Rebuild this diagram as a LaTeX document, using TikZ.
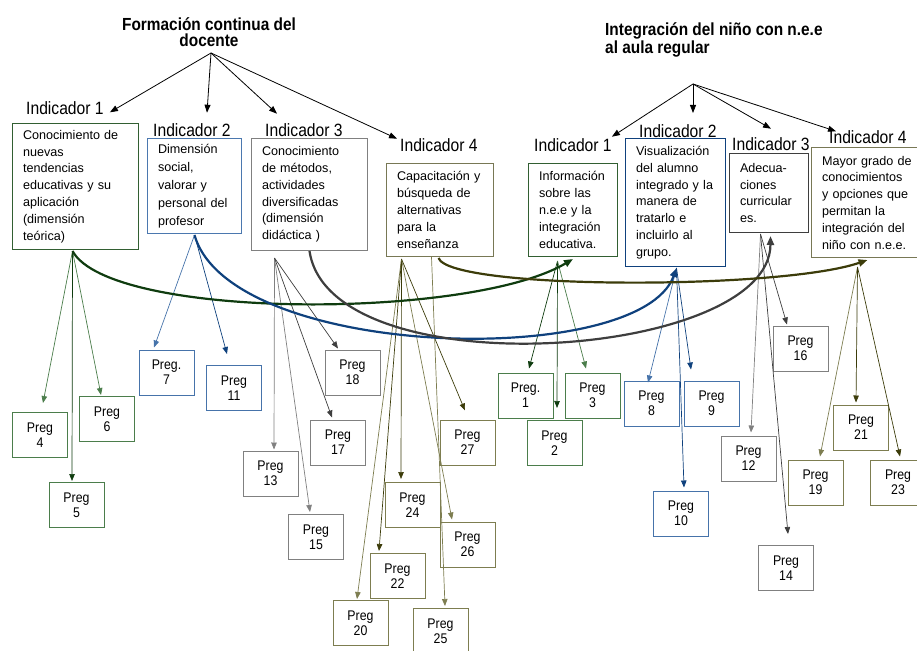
\documentclass[tikz,border=0pt]{standalone}
\usepackage{fontspec}
\setmainfont{Liberation Sans}
\newfontfamily\estrecha{Liberation Sans}[FakeStretch=0.88]
\usetikzlibrary{arrows.meta}
\definecolor{verdeb}{RGB}{50,95,50}
\definecolor{verdec}{RGB}{75,125,75}
\definecolor{verdeos}{RGB}{15,60,15}
\definecolor{azulb}{RGB}{75,120,175}
\definecolor{azulc}{RGB}{70,115,170}
\definecolor{azulos}{RGB}{15,65,125}
\definecolor{grisb}{RGB}{128,128,128}
\definecolor{grisos}{RGB}{62,62,62}
\definecolor{olivab}{RGB}{120,120,85}
\definecolor{olivac}{RGB}{125,125,80}
\definecolor{olivaos}{RGB}{60,60,10}
\tikzset{
	titulo/.style = {inner sep=0pt, font=\estrecha\bfseries\fontsize{17.5}{16.5}\selectfont},
	etiq/.style = {inner sep=0pt, anchor=base west,
		font=\estrecha\fontsize{17.8}{20}\selectfont},% etiqueta del indicador
	indbox/.style = {draw, anchor=north west, align=left, inner xsep=10.5pt,
		inner ysep=0pt, line width=1pt, font=\fontsize{12.6}{16.8}\selectfont},
	ind_v/.style = {indbox, draw=verdeb},% indicador verde
	ind_a/.style = {indbox, draw=azulb},% indicador azul
	ind_g/.style = {indbox, draw=grisb},% indicador gris
	ind_o/.style = {indbox, draw=olivab},% indicador oliva
	preg/.style = {draw, align=center, inner sep=0pt, minimum width=55pt,
		minimum height=45pt, line width=1pt, font=\estrecha\fontsize{14}{15}\selectfont},
	preg_v/.style = {preg, draw=verdec},% pregunta verde
	preg_a/.style = {preg, draw=azulc},% pregunta azul
	preg_g/.style = {preg, draw=grisb},% pregunta gris
	preg_o/.style = {preg, draw=olivac},% pregunta oliva
	fl/.style = {-{Triangle[length=7pt,width=5.5pt]}, line width=0.7pt, #1},
	curva/.style = {-{Triangle[length=9pt,width=7pt]}, line width=2.2pt, #1},
	raiz/.style = {-{Triangle[length=8pt,width=6pt]}, line width=0.8pt, black}
}
\begin{document}
\begin{tikzpicture}[x=1pt,y=-1pt]
\useasboundingbox (0,0) rectangle (917,650);

% variables
\node[titulo, align=center] (tfd) at (209,32) {Formación continua del\\docente};
\node[titulo, align=left, anchor=west, font=\estrecha\bfseries\fontsize{17.5}{18.5}\selectfont] (tin) at (605,40)
	{Integración del niño con n.e.e\\al aula regular};
\coordinate (fcd) at (211,53);
\coordinate (inr) at (693,84);

% etiquetas
\node[etiq] (li1) at (26,114.3) {Indicador 1};
\node[etiq] (li2) at (153,136.7) {Indicador 2};
\node[etiq] (li3) at (265,136.7) {Indicador 3};
\node[etiq] (li4) at (400,151.7) {Indicador 4};
\node[etiq] (ri1) at (534,151.7) {Indicador 1};
\node[etiq] (ri2) at (639,137) {Indicador 2};
\node[etiq] (ri3) at (732,150.7) {Indicador 3};
\node[etiq] (ri4) at (829,143.3) {Indicador 4};

% indicadores
\node[ind_v, text width=105pt, minimum height=126pt] (A1) at (12,123)
	{Conocimiento de\\nuevas\\tendencias\\educativas y su\\aplicación\\(dimensión\\teórica)};
\node[ind_a, text width=73pt, minimum height=95pt, font=\fontsize{12.6}{18}\selectfont] (A2) at (147,138)
	{Dimensión\\social,\\valorar y\\personal del\\profesor};
\node[ind_g, text width=95pt, minimum height=112pt] (A3) at (251,138)
	{Conocimiento\\de métodos,\\actividades\\diversificadas\\(dimensión\\didáctica )};
\node[ind_o, text width=86pt, minimum height=93pt] (A4) at (386,163)
	{Capacitación y\\búsqueda de\\alternativas\\para la\\enseñanza};
\node[ind_v, text width=68pt, minimum height=93pt] (B1) at (528,163)
	{Información\\sobre las\\n.e.e y la\\integración\\educativa.};
\node[ind_a, draw=azulos, text width=79pt, minimum height=128pt] (B2) at (625,138)
	{Visualización\\del alumno\\integrado y la\\manera de\\tratarlo e\\incluirlo al\\grupo.};
\node[ind_g, draw=grisos, text width=58pt, minimum height=79pt] (B3) at (729,153)
	{Adecua-\\ciones\\curricular\\es.};
\node[ind_o, text width=86pt, minimum height=110pt] (B4) at (811,147)
	{\mbox{Mayor grado de}\\conocimientos\\\mbox{y opciones que}\\permitan la\\integración del\\niño con n.e.e.};

% preguntas
\node[preg_v] (p4) at (40,435) {Preg\\4};
\node[preg_v] (p5) at (76.5,505) {Preg\\5};
\node[preg_v] (p6) at (107,419) {Preg\\6};
\node[preg_a] (p7) at (166.5,372.5) {Preg.\\7};
\node[preg_a] (p11) at (234,388) {Preg\\11};
\node[preg_g] (p13) at (270.5,473.5) {Preg\\13};
\node[preg_g] (p15) at (316,537) {Preg\\15};
\node[preg_g] (p17) at (338,442.5) {Preg\\17};
\node[preg_g] (p18) at (352.5,372.5) {Preg\\18};
\node[preg_o] (p20) at (360.5,623) {Preg\\20};
\node[preg_o] (p22) at (397.5,576) {Preg\\22};
\node[preg_o] (p24) at (412.5,505) {Preg\\24};
\node[preg_o] (p25) at (440.5,631) {Preg\\25};
\node[preg_o] (p26) at (467.5,544.5) {Preg\\26};
\node[preg_o] (p27) at (467.5,442.5) {Preg\\27};
\node[preg_v] (q1) at (525.5,395.5) {Preg.\\1};
\node[preg_v] (q2) at (554.5,443) {Preg\\2};
\node[preg_v] (q3) at (592.5,395.5) {Preg\\3};
\node[preg_a] (q8) at (651.5,403.5) {Preg\\8};
\node[preg_a] (q9) at (711.5,403.5) {Preg\\9};
\node[preg_a] (q10) at (681,513.5) {Preg\\10};
\node[preg_g] (q12) at (748.5,458.5) {Preg\\12};
\node[preg_g] (q14) at (786,568) {Preg\\14};
\node[preg_g] (q16) at (800.5,348.5) {Preg\\16};
\node[preg_o] (q19) at (815.5,482.5) {Preg\\19};
\node[preg_o] (q21) at (861,427.5) {Preg\\21};
\node[preg_o] (q23) at (898,482.5) {Preg\\23};

% salidas de las cajas
\coordinate (a1s) at ([shift={(-3,1)}]A1.south);
\coordinate (a2s) at ([shift={(0,1)}]A2.south);
\coordinate (a3s) at ([shift={(-35,7)}]A3.south);
\coordinate (a3c) at (A3.south);
\coordinate (a4s) at ([shift={(-38.5,2)}]A4.south);
\coordinate (a4t) at ([shift={(-8.5,0)}]A4.south);
\coordinate (a4c) at ([shift={(-1.5,1)}]A4.south);
\coordinate (b1s) at ([shift={(-15.5,4)}]B1.south);
\coordinate (b1c) at ([shift={(0,2)}]B1.south);
\coordinate (b2s) at ([shift={(1,1)}]B2.south);
\coordinate (b3s) at ([shift={(-8.5,1)}]B3.south);
\coordinate (b3c) at ([shift={(1.5,3)}]B3.south);
\coordinate (b4s) at ([shift={(-7.5,9)}]B4.south);
\coordinate (b4c) at ([shift={(2.5,2)}]B4.south);

% variables -> indicadores
\draw[raiz] (fcd) -- ([shift={(6,-2)}]li1.base east);
\draw[raiz] (fcd) -- ([shift={(54,-24)}]li2.base west);
\draw[raiz] (fcd) -- ([shift={(12,-23)}]li3.base west);
\draw[raiz] (fcd) -- ([shift={(-3,-13)}]li4.base west);
\draw[raiz] (inr) -- ([shift={(0,-15)}]ri1.base east);
\draw[raiz] (inr) -- ([shift={(54,-24)}]ri2.base west);
\draw[raiz] (inr) -- ([shift={(39,-22)}]ri3.base west);
\draw[raiz] (inr) -- ([shift={(7,-12)}]ri4.base west);

% indicadores -> preguntas
\draw[fl=verdec] (a1s) -- ([shift={(3,-9)}]p4.north);
\draw[fl=verdec] (a1s) -- ([shift={(-6,-1)}]p6.north);
\draw[fl=verdeos] (a1s) -- ([shift={(-4.5,-1)}]p5.north);
\draw[fl=azulc] (a2s) -- ([shift={(-12.5,-2)}]p7.north);
\draw[fl=azulos] (a2s) -- ([shift={(-7,-11)}]p11.north);
\draw[fl=grisb] (a3s) -- ([shift={(3.5,-1)}]p13.north);
\draw[fl=grisb] (a3s) -- ([shift={(-6,-2)}]p15.north);
\draw[fl=grisos] (a3s) -- ([shift={(-6,-2)}]p17.north);
\draw[fl=grisos] (a3s) -- ([shift={(-14.5,-1)}]p18.north);
\draw[fl=olivac] (a4s) -- ([shift={(-3.5,-1)}]p20.north);
\draw[fl=olivaos] (a4s) -- ([shift={(-18.5,-2)}]p22.north);
\draw[fl=olivaos] (a4s) -- ([shift={(-11.5,-3)}]p24.north);
\draw[fl=olivac] (a4s) -- ([shift={(-15.5,-2)}]p26.north);
\draw[fl=olivaos] (a4s) -- ([shift={(-2.5,-9)}]p27.north);
\draw[fl=olivac] (a4t) -- ([shift={(4.5,-2)}]p25.north);
\draw[fl=verdeos] (b1s) -- ([shift={(3.5,-4)}]q1.north);
\draw[fl=verdeos] (b1s) -- ([shift={(2.5,-12)}]q2.north);
\draw[fl=verdec] (b1s) -- ([shift={(-6.5,-4)}]q3.north);
\draw[fl=azulc] (b2s) -- ([shift={(-3.5,2)}]q8.north);
\draw[fl=azulos] (b2s) -- ([shift={(-20.5,-11)}]q9.north);
\draw[fl=azulos] (b2s) -- ([shift={(3,-3)}]q10.north);
\draw[fl=grisb] (b3s) -- ([shift={(2.5,-3)}]q12.north);
\draw[fl=grisos] (b3s) -- ([shift={(2,-11)}]q14.north);
\draw[fl=grisos] (b3s) -- ([shift={(-13.5,-1)}]q16.north);
\draw[fl=olivac] (b4s) -- ([shift={(4.5,-3)}]q19.north);
\draw[fl=olivaos] (b4s) -- ([shift={(-5,-2)}]q21.north);
\draw[fl=olivaos] (b4s) -- ([shift={(2,-3)}]q23.north);

% relaciones entre indicadores
\draw[curva=verdeos] (a1s) .. controls (110,320) and (470,320) .. (b1c);
\draw[curva=azulos] (a2s) .. controls (230,360) and (640,370) .. (b2s);
\draw[curva=grisos] (a3c) .. controls (330,390) and (770,360) .. (b3c);
\draw[curva=olivaos] (a4c) .. controls (450,290) and (780,290) .. (b4c);
\end{tikzpicture}
\end{document}
